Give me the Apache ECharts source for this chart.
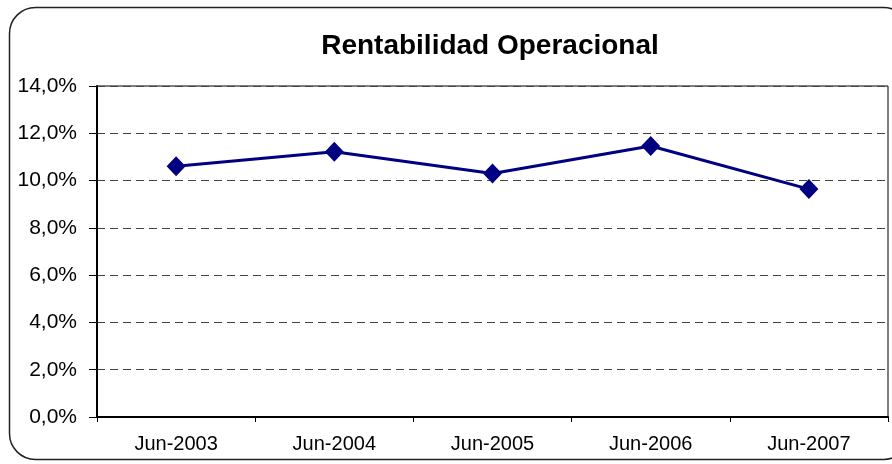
<!DOCTYPE html>
<html>
<head>
<meta charset="utf-8">
<script src="https://cdn.jsdelivr.net/npm/echarts@6/dist/echarts.min.js"></script>
<style>
  html, body { margin: 0; padding: 0; background: #fff; }
  #chart { width: 892px; height: 464px; }
</style>
</head>
<body>
<div id="chart"></div>
<script>
var categories = ['Jun-2003', 'Jun-2004', 'Jun-2005', 'Jun-2006', 'Jun-2007'];
var rentabilidad = [10.61, 11.22, 10.30, 11.46, 9.64];
var yTicks = [0, 2, 4, 6, 8, 10, 12, 14];

var chart = echarts.init(document.getElementById('chart'));

var option = {
    backgroundColor: '#fff',
    animation: false,
    textStyle: { fontFamily: '"Liberation Sans", Arial, sans-serif' },
    title: {
        text: 'Rentabilidad Operacional',
        left: 485,
        top: 27,
        textAlign: 'center',
        textStyle: { fontSize: 28, fontWeight: 'bold', color: '#000',
                     fontFamily: '"Liberation Sans", Arial, sans-serif' }
    },
    graphic: [{
        type: 'rect',
        shape: { x: 9.5, y: 7.5, width: 900, height: 452, r: 26 },
        style: { fill: 'none', stroke: '#222', lineWidth: 1.5 },
        silent: true
    }],
    grid: {
        left: 97, right: 4, top: 86, bottom: 47,
        show: true, borderColor: '#000', borderWidth: 1
    },
    xAxis: {
        type: 'category',
        data: categories,
        boundaryGap: true,
        axisLine: { lineStyle: { color: '#000', width: 2 } },
        axisTick: { show: true, length: 5, lineStyle: { color: '#000' } },
        axisLabel: { color: '#000', fontSize: 20, margin: 17 }
    },
    yAxis: {
        type: 'value',
        min: yTicks[0],
        max: yTicks[yTicks.length - 1],
        interval: 2,
        axisLine: { show: true, lineStyle: { color: '#000', width: 2 } },
        axisTick: { show: true, length: 8, lineStyle: { color: '#000' } },
        axisLabel: {
            color: '#000', fontSize: 21, margin: 20,
            formatter: function (v) { return v.toFixed(1).replace('.', ',') + '%'; }
        },
        splitLine: { show: true, lineStyle: { color: '#444', type: [8, 5], width: 1 } }
    },
    series: [{
        type: 'line',
        data: rentabilidad,
        symbol: 'diamond',
        symbolSize: [19, 20],
        lineStyle: { color: '#000080', width: 3 },
        itemStyle: { color: '#000080' }
    }]
};

chart.setOption(option);
window.addEventListener('resize', function () { chart.resize(); });
</script>
</body>
</html>
